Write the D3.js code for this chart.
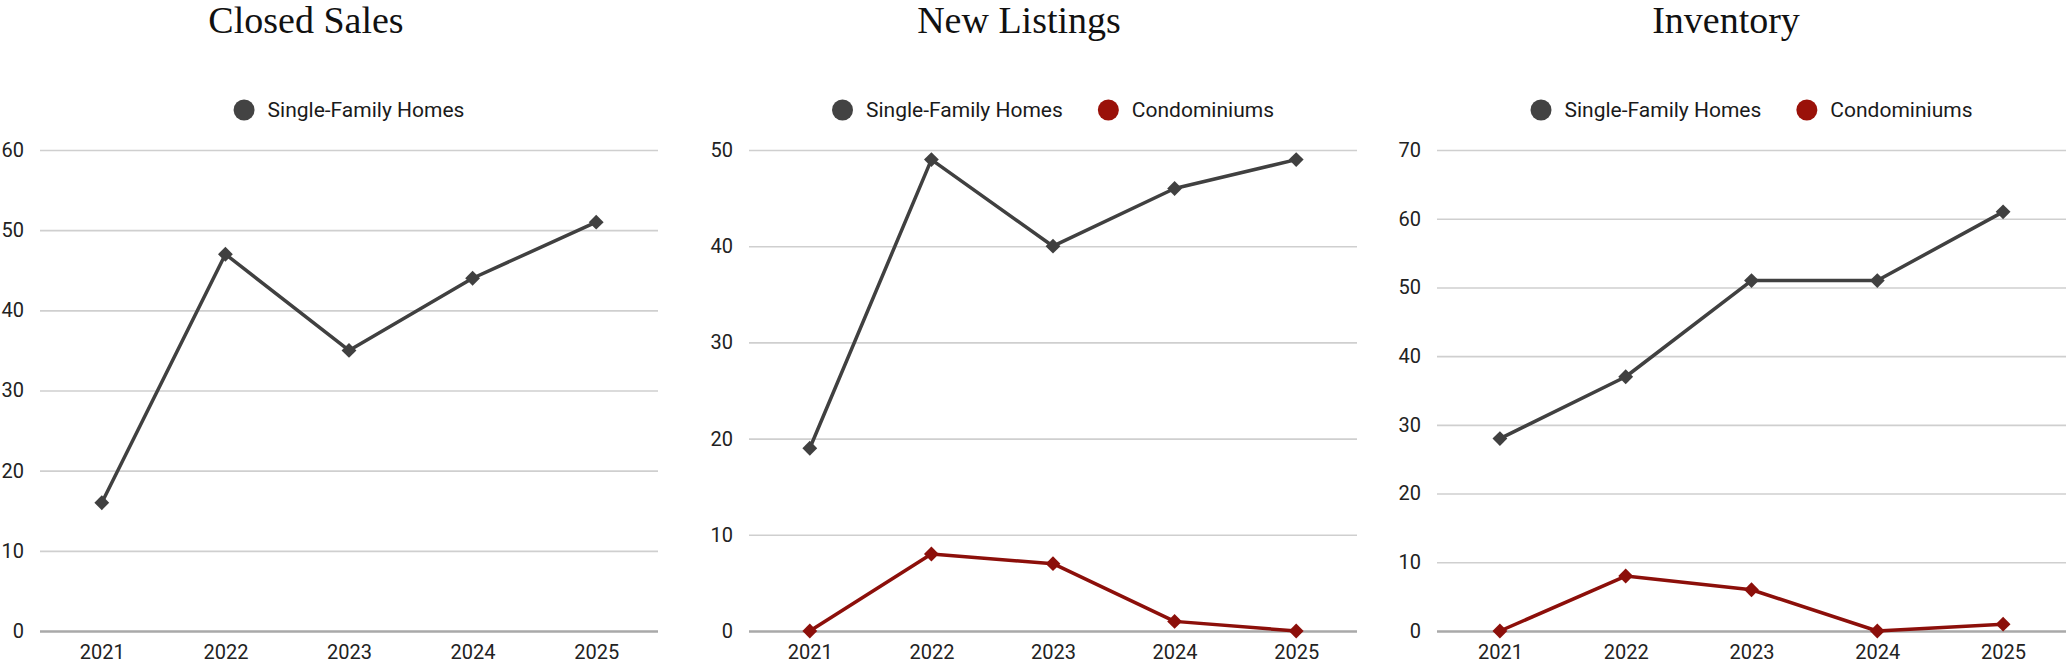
<!DOCTYPE html>
<html>
<head>
<meta charset="utf-8">
<script src="https://cdn.jsdelivr.net/npm/d3@7"></script>
<style>
  html, body { margin: 0; padding: 0; background: #ffffff; }
  svg { display: block; }
</style>
</head>
<body>
<svg id="chart" width="2069" height="665"></svg>
<script>
// ---------- data ----------
const years = ["2021", "2022", "2023", "2024", "2025"];
const seriesNames = ["Single-Family Homes", "Condominiums"];

const closedSalesSFH = [16, 47, 35, 44, 51];
const newListingsSFH = [19, 49, 40, 46, 49];
const newListingsCondo = [0, 8, 7, 1, 0];
const inventorySFH = [28, 37, 51, 51, 61];
const inventoryCondo = [0, 8, 6, 0, 1];

const chartTitles = ["Closed Sales", "New Listings", "Inventory"];
const closedSalesTicks = [0, 10, 20, 30, 40, 50, 60];
const newListingsTicks = [0, 10, 20, 30, 40, 50];
const inventoryTicks = [0, 10, 20, 30, 40, 50, 60, 70];

// ---------- layout / style ----------
const colors = { "Single-Family Homes": "#404040", "Condominiums": "#8c0f0a" };
const legendColors = { "Single-Family Homes": "#434343", "Condominiums": "#9a1109" };

const panels = [
  { title: chartTitles[0], titleX: 306, x0: 40, x1: 658,
    ticks: closedSalesTicks, series: [{ name: seriesNames[0], values: closedSalesSFH }] },
  { title: chartTitles[1], titleX: 1019, x0: 749, x1: 1357,
    ticks: newListingsTicks, series: [{ name: seriesNames[0], values: newListingsSFH },
                                      { name: seriesNames[1], values: newListingsCondo }] },
  { title: chartTitles[2], titleX: 1726, x0: 1437, x1: 2066,
    ticks: inventoryTicks, series: [{ name: seriesNames[0], values: inventorySFH },
                                    { name: seriesNames[1], values: inventoryCondo }] }
];

const yTop = 150, yBottom = 631;
const svg = d3.select("#chart");

panels.forEach(p => {
  const g = svg.append("g");
  const x = d3.scalePoint().domain(years).range([p.x0, p.x1]).padding(0.5);
  const yMax = d3.max(p.ticks);
  const y = d3.scaleLinear().domain([0, yMax]).range([yBottom, yTop]);

  // title
  g.append("text")
    .attr("x", p.titleX).attr("y", 33)
    .attr("text-anchor", "middle")
    .attr("font-family", "'Liberation Serif', 'DejaVu Serif', serif")
    .attr("font-size", 38)
    .attr("fill", "#111")
    .text(p.title);

  // gridlines (y axis)
  const yAxis = d3.axisLeft(y).tickValues(p.ticks).tickSize(-(p.x1 - p.x0)).tickPadding(16);
  const ya = g.append("g").attr("transform", `translate(${p.x0},0)`).call(yAxis);
  ya.select(".domain").remove();
  ya.selectAll(".tick line")
    .attr("stroke", d => d === 0 ? "#a9a9a9" : "#cfcfcf")
    .attr("stroke-width", d => d === 0 ? 2.5 : 1.6);
  ya.selectAll(".tick text")
    .attr("font-family", "Roboto, 'Noto Sans', sans-serif")
    .attr("font-size", 20)
    .attr("fill", "#222");

  // x axis labels
  const xAxis = d3.axisBottom(x).tickSize(0).tickPadding(14);
  const xa = g.append("g").attr("transform", `translate(0,${yBottom})`).call(xAxis);
  xa.select(".domain").remove();
  xa.selectAll(".tick text")
    .attr("font-family", "Roboto, 'Noto Sans', sans-serif")
    .attr("font-size", 20)
    .attr("fill", "#222");

  // lines + markers (draw condo first so SFH sits on top)
  const line = d3.line().x((d, i) => x(years[i])).y(d => y(d));
  const diamond = d3.symbol().type(d3.symbolSquare).size(110);
  p.series.slice().reverse().forEach(s => {
    g.append("path")
      .datum(s.values)
      .attr("d", line)
      .attr("fill", "none")
      .attr("stroke", colors[s.name])
      .attr("stroke-width", 3.5)
      .attr("stroke-linejoin", "round");
    g.selectAll(null)
      .data(s.values)
      .enter().append("path")
      .attr("d", diamond)
      .attr("transform", (d, i) => `translate(${x(years[i])},${y(d)}) rotate(45)`)
      .attr("fill", colors[s.name]);
  });

  // legend, centered over plot
  const lg = g.append("g");
  let cx = 0;
  const items = [];
  p.series.forEach((s, i) => {
    const it = lg.append("g");
    it.append("circle").attr("cx", cx + 10.5).attr("cy", 110).attr("r", 10.5)
      .attr("fill", legendColors[s.name]);
    const t = it.append("text")
      .attr("x", cx + 34).attr("y", 110).attr("dy", "0.35em")
      .attr("font-family", "Roboto, 'Noto Sans', sans-serif")
      .attr("font-size", 21)
      .attr("fill", "#1a1a1a")
      .text(s.name);
    const w = t.node().getComputedTextLength();
    cx += 34 + w + 35;
  });
  const totalW = cx - 35;
  const center = (p.x0 + p.x1) / 2;
  lg.attr("transform", `translate(${center - totalW / 2},0)`);
});
</script>
</body>
</html>
